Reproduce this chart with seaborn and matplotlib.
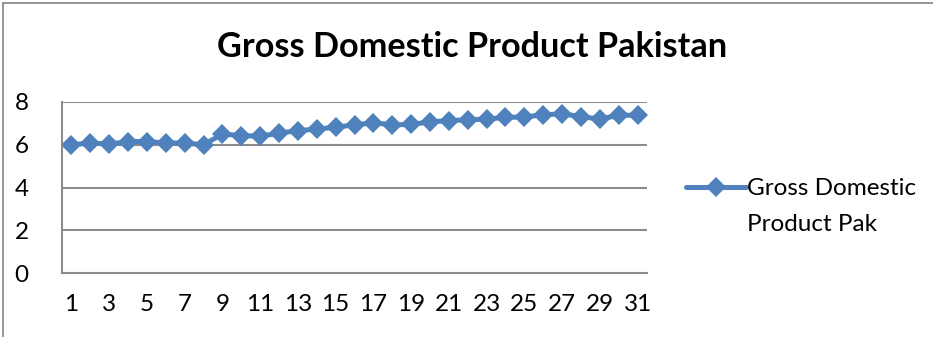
import matplotlib
matplotlib.use("Agg")
import matplotlib.pyplot as plt
import matplotlib.patches as mpatches
import pandas as pd
import seaborn as sns

# Observation index and GDP values
periods = list(range(1, 32))
gdp_values = [6.00, 6.08, 6.03, 6.15, 6.15, 6.08, 6.08, 6.00,
              6.50, 6.43, 6.40, 6.54, 6.66, 6.73, 6.82, 6.93,
              7.03, 6.93, 6.95, 7.07, 7.13, 7.17, 7.20, 7.28,
              7.30, 7.40, 7.45, 7.32, 7.20, 7.38, 7.38]
series_name = "Gross Domestic Product Pak"
y_ticks = [0, 2, 4, 6, 8]
x_tick_labels = [str(p) for p in periods if p % 2 == 1]

df = pd.DataFrame({"period": periods, "gdp": gdp_values, "series": series_name})

sns.set_theme(style="white")
plt.rcParams["font.family"] = ["Lato", "DejaVu Sans"]
plt.rcParams["text.color"] = "black"
plt.rcParams["xtick.color"] = "black"
plt.rcParams["ytick.color"] = "black"

blue = "#4F81BD"
grid_gray = "#8C8C8C"
label_size = 17.5

fig = plt.figure(figsize=(9.33, 3.37), dpi=100)
ax = fig.add_axes([62 / 933, 1 - 273 / 337, (647 - 62) / 933, (273 - 102) / 337])

sns.lineplot(data=df, x="period", y="gdp", hue="series", palette=[blue],
             marker="D", markersize=10.5, markeredgewidth=0, linewidth=3.6,
             ax=ax, legend=True, clip_on=False)

ax.set_xlim(0.5, 31.5)
ax.set_ylim(0, 8)
ax.set_yticks(y_ticks)
ax.set_yticklabels([str(v) for v in y_ticks], fontsize=label_size)
ax.set_xticks([p for p in periods if p % 2 == 1])
ax.set_xticklabels(x_tick_labels, fontsize=label_size)
ax.set_xticks([p + 0.5 for p in range(0, 32)], minor=True)
ax.tick_params(axis="x", which="major", length=0, pad=15, labelcolor="black")
ax.tick_params(axis="x", which="minor", length=7, width=1.2, color=grid_gray, direction="out")
ax.tick_params(axis="y", which="major", length=6, width=1.2, color=grid_gray,
               direction="out", pad=18, labelcolor="black")
ax.set_xlabel("")
ax.set_ylabel("")

for v in y_ticks[1:]:
    ax.axhline(v, color=grid_gray, linewidth=1.5, zorder=0)

for side in ["top", "right"]:
    ax.spines[side].set_visible(False)
for side in ["left", "bottom"]:
    ax.spines[side].set_color(grid_gray)
    ax.spines[side].set_linewidth(1.5)

fig.suptitle("Gross Domestic Product Pakistan", x=472 / 933, y=1 - 47 / 337,
             va="center", fontsize=24.7, fontweight="bold", color="black")

# Legend with the key line level with the first text row
handles, labels = ax.get_legend_handles_labels()
leg = ax.legend(handles, ["Gross Domestic\nProduct Pak"], loc="center left",
                bbox_to_anchor=(686 / 933, 1 - 210 / 337), bbox_transform=fig.transFigure,
                frameon=False, fontsize=label_size, handlelength=2.45, handletextpad=0.05,
                handleheight=6.1, borderpad=0, borderaxespad=0)
for t in leg.get_texts():
    t.set_linespacing(1.9)
    t.set_color("black")

# Chart-area outline
fig.patches.append(mpatches.Rectangle((3 / 933, -0.1), 1.2, 1.1 - 3 / 337,
                                      transform=fig.transFigure, fill=False,
                                      edgecolor="#8C8C8C", linewidth=1.3))

fig.savefig("out.png", dpi=100)
